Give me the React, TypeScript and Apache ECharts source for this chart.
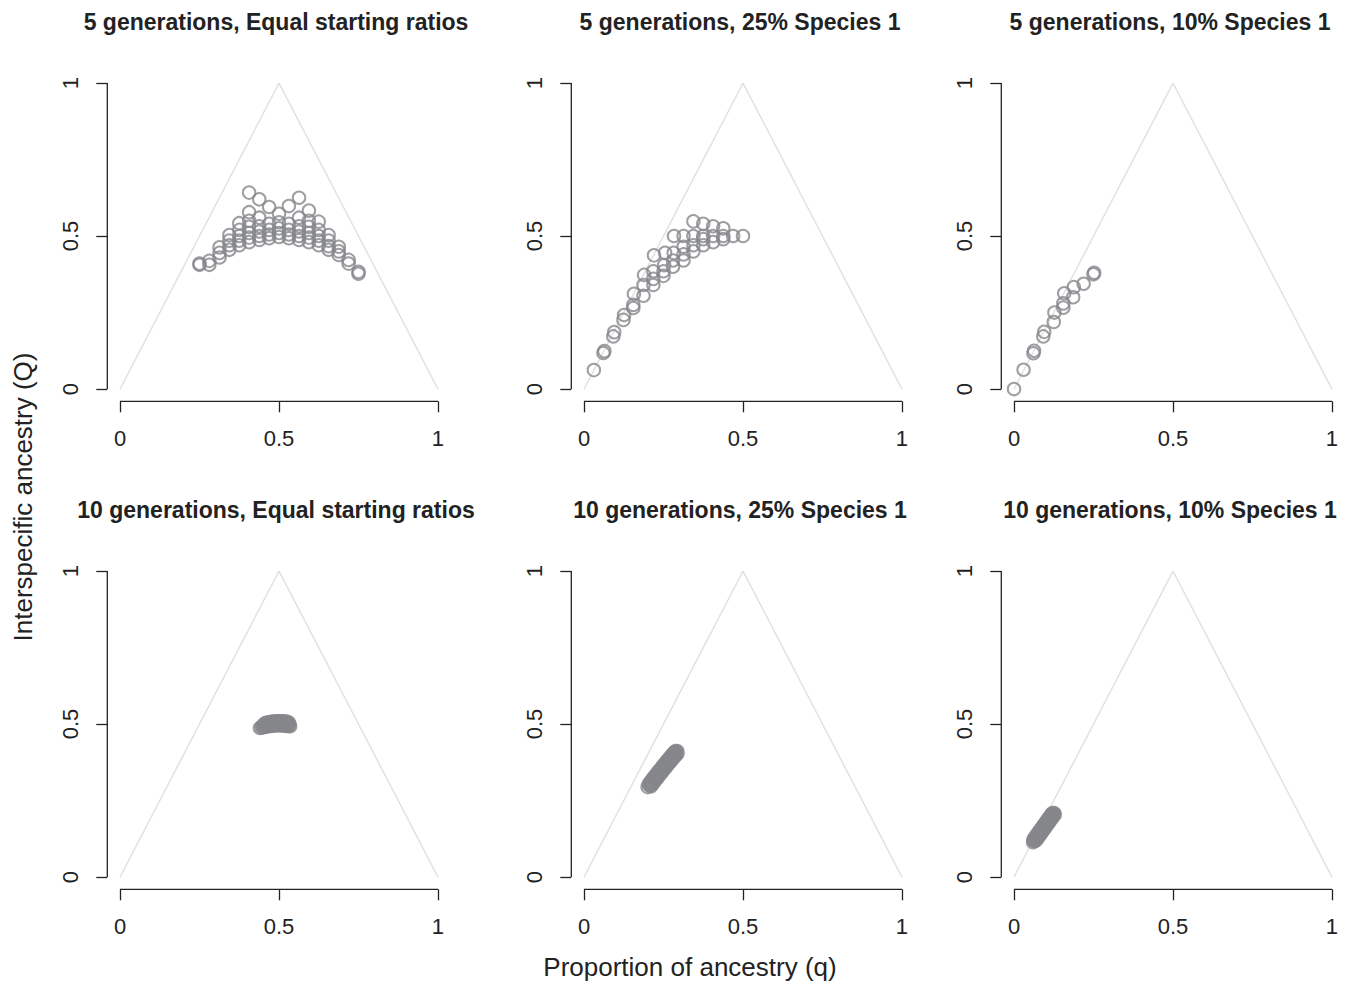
import React, { useEffect, useRef } from "react";
import * as echarts from "echarts";

const FONT = '"Liberation Sans", Arial, Helvetica, sans-serif';

const panelTitles = [
  "5 generations, Equal starting ratios",
  "5 generations, 25% Species 1",
  "5 generations, 10% Species 1",
  "10 generations, Equal starting ratios",
  "10 generations, 25% Species 1",
  "10 generations, 10% Species 1",
];
const xAxisTitle = "Proportion of ancestry (q)";
const yAxisTitle = "Interspecific ancestry (Q)";
const tickValues = [0, 0.5, 1];
const triangle = [[0, 0], [0.5, 1], [1, 0]];

// [q, Q] pairs
const gen5Equal = [
  [0.25, 0.406], [0.25, 0.41],
  [0.281, 0.406], [0.281, 0.419],
  [0.313, 0.43], [0.313, 0.445], [0.313, 0.463],
  [0.344, 0.455], [0.344, 0.47], [0.344, 0.485], [0.344, 0.503],
  [0.375, 0.47], [0.375, 0.485], [0.375, 0.5], [0.375, 0.52], [0.375, 0.542],
  [0.406, 0.48], [0.406, 0.495], [0.406, 0.51], [0.406, 0.53], [0.406, 0.55], [0.406, 0.578], [0.406, 0.642],
  [0.438, 0.487], [0.438, 0.5], [0.438, 0.515], [0.438, 0.532], [0.438, 0.56], [0.438, 0.62],
  [0.469, 0.493], [0.469, 0.505], [0.469, 0.52], [0.469, 0.54], [0.469, 0.595],
  [0.5, 0.497], [0.5, 0.51], [0.5, 0.525], [0.5, 0.545], [0.5, 0.573],
  [0.531, 0.493], [0.531, 0.505], [0.531, 0.52], [0.531, 0.54], [0.531, 0.598],
  [0.563, 0.487], [0.563, 0.5], [0.563, 0.515], [0.563, 0.532], [0.563, 0.56], [0.563, 0.625],
  [0.594, 0.48], [0.594, 0.495], [0.594, 0.51], [0.594, 0.53], [0.594, 0.55], [0.594, 0.583],
  [0.625, 0.47], [0.625, 0.485], [0.625, 0.5], [0.625, 0.52], [0.625, 0.547],
  [0.656, 0.455], [0.656, 0.467], [0.656, 0.485], [0.656, 0.503],
  [0.688, 0.438], [0.688, 0.45], [0.688, 0.465],
  [0.719, 0.41], [0.719, 0.422],
  [0.75, 0.377], [0.75, 0.383],
];

const gen5Sp25 = [
  [0.031, 0.062], [0.061, 0.118], [0.064, 0.124], [0.092, 0.172], [0.095, 0.186],
  [0.124, 0.226], [0.126, 0.242], [0.155, 0.265], [0.155, 0.275], [0.157, 0.311],
  [0.187, 0.305], [0.187, 0.34], [0.189, 0.373], [0.218, 0.34], [0.218, 0.36],
  [0.218, 0.385], [0.22, 0.437], [0.25, 0.37], [0.25, 0.385], [0.252, 0.405],
  [0.255, 0.445], [0.28, 0.4], [0.28, 0.42], [0.282, 0.445], [0.283, 0.5],
  [0.313, 0.42], [0.313, 0.44], [0.313, 0.465], [0.313, 0.5], [0.344, 0.45],
  [0.344, 0.47], [0.344, 0.5], [0.344, 0.548], [0.375, 0.47], [0.375, 0.49],
  [0.375, 0.5], [0.375, 0.54], [0.406, 0.48], [0.406, 0.5], [0.406, 0.532],
  [0.438, 0.49], [0.438, 0.5], [0.438, 0.525], [0.469, 0.5], [0.5, 0.5],
];

const gen5Sp10 = [
  [0, 0], [0.03, 0.063], [0.061, 0.117], [0.063, 0.125], [0.092, 0.172],
  [0.095, 0.187], [0.125, 0.219], [0.127, 0.25], [0.155, 0.266], [0.155, 0.28],
  [0.158, 0.313], [0.186, 0.3], [0.188, 0.333], [0.219, 0.344], [0.25, 0.375],
  [0.252, 0.38],
];

const gen10Equal = [
  [0.44, 0.487], [0.445, 0.489], [0.45, 0.49], [0.455, 0.491], [0.46, 0.492],
  [0.465, 0.493], [0.47, 0.494], [0.475, 0.494], [0.48, 0.495], [0.485, 0.495],
  [0.49, 0.496], [0.495, 0.496], [0.5, 0.496], [0.505, 0.496], [0.51, 0.496],
  [0.515, 0.495], [0.52, 0.495], [0.525, 0.494], [0.53, 0.494], [0.535, 0.493],
  [0.448, 0.494], [0.453, 0.496], [0.458, 0.497], [0.463, 0.498], [0.468, 0.499],
  [0.473, 0.5], [0.478, 0.5], [0.483, 0.501], [0.488, 0.501], [0.493, 0.502],
  [0.498, 0.502], [0.503, 0.502], [0.508, 0.502], [0.513, 0.502], [0.518, 0.501],
  [0.523, 0.5], [0.528, 0.5], [0.533, 0.499],
  [0.455, 0.502], [0.46, 0.504], [0.465, 0.505], [0.47, 0.506], [0.475, 0.507],
  [0.48, 0.507], [0.485, 0.508], [0.49, 0.508], [0.495, 0.509], [0.5, 0.509],
  [0.505, 0.509], [0.51, 0.509], [0.515, 0.508], [0.52, 0.508], [0.525, 0.507],
  [0.53, 0.506],
];

const gen10Sp25 = [
  [0.2, 0.294], [0.205, 0.3], [0.209, 0.306], [0.213, 0.311], [0.217, 0.317],
  [0.221, 0.322], [0.225, 0.327], [0.229, 0.333], [0.233, 0.338], [0.237, 0.343],
  [0.241, 0.348], [0.245, 0.354], [0.249, 0.359], [0.253, 0.364], [0.257, 0.369],
  [0.261, 0.374], [0.265, 0.379], [0.269, 0.384], [0.273, 0.389], [0.277, 0.394],
  [0.281, 0.399], [0.285, 0.404], [0.289, 0.408], [0.293, 0.412],
  [0.21, 0.296], [0.214, 0.302], [0.218, 0.307], [0.222, 0.313], [0.226, 0.318],
  [0.23, 0.323], [0.234, 0.329], [0.238, 0.334], [0.242, 0.339], [0.246, 0.344],
  [0.25, 0.35], [0.254, 0.355], [0.258, 0.36], [0.262, 0.365], [0.266, 0.37],
  [0.27, 0.375], [0.274, 0.38], [0.278, 0.385], [0.282, 0.39], [0.286, 0.395],
  [0.29, 0.4], [0.294, 0.404],
  [0.204, 0.304], [0.208, 0.31], [0.212, 0.315], [0.216, 0.321], [0.22, 0.326],
  [0.224, 0.331], [0.228, 0.337], [0.232, 0.342], [0.236, 0.347], [0.24, 0.352],
  [0.244, 0.358], [0.248, 0.363], [0.252, 0.368], [0.256, 0.373], [0.26, 0.378],
  [0.264, 0.383], [0.268, 0.388], [0.272, 0.393], [0.276, 0.398], [0.28, 0.403],
  [0.284, 0.408], [0.288, 0.412],
];

const gen10Sp10 = [
  [0.06, 0.114], [0.063, 0.118], [0.066, 0.123], [0.069, 0.127], [0.072, 0.131],
  [0.075, 0.136], [0.078, 0.14], [0.081, 0.144], [0.084, 0.149], [0.087, 0.153],
  [0.09, 0.157], [0.093, 0.162], [0.096, 0.166], [0.099, 0.17], [0.102, 0.175],
  [0.105, 0.179], [0.108, 0.183], [0.111, 0.188], [0.114, 0.192], [0.117, 0.196],
  [0.12, 0.2], [0.123, 0.205], [0.126, 0.209],
  [0.068, 0.119], [0.071, 0.123], [0.074, 0.127], [0.077, 0.132], [0.08, 0.136],
  [0.083, 0.14], [0.086, 0.145], [0.089, 0.149], [0.092, 0.153], [0.095, 0.158],
  [0.098, 0.162], [0.101, 0.166], [0.104, 0.171], [0.107, 0.175], [0.11, 0.179],
  [0.113, 0.184], [0.116, 0.188], [0.119, 0.192], [0.122, 0.196], [0.125, 0.201],
  [0.128, 0.204],
  [0.061, 0.122], [0.064, 0.127], [0.067, 0.131], [0.07, 0.135], [0.073, 0.14],
  [0.076, 0.144], [0.079, 0.148], [0.082, 0.153], [0.085, 0.157], [0.088, 0.161],
  [0.091, 0.166], [0.094, 0.17], [0.097, 0.174], [0.1, 0.179], [0.103, 0.183],
  [0.106, 0.187], [0.109, 0.192], [0.112, 0.196], [0.115, 0.2], [0.118, 0.205],
  [0.121, 0.209],
];

const panelData = [gen5Equal, gen5Sp25, gen5Sp10, gen10Equal, gen10Sp25, gen10Sp10];

const GRID_LEFTS = [107.3, 571.3, 1001.3];
const GRID_TOPS = [70.8, 558.8];
const GRID_W = 343.4;
const GRID_H = 330.5;
const AXIS_MIN = -0.04;
const AXIS_MAX = 1.04;
const INK = "#222222";
const POINT = "#86878b";

function buildOption() {
  const grid: any[] = [];
  const xAxis: any[] = [];
  const yAxis: any[] = [];
  const series: any[] = [];
  const graphic: any[] = [];

  for (let i = 0; i < 6; i++) {
    const col = i % 3;
    const row = Math.floor(i / 3);
    const left = GRID_LEFTS[col];
    const top = GRID_TOPS[row];
    grid.push({ left, top, width: GRID_W, height: GRID_H, containLabel: false });
    xAxis.push({
      gridIndex: i,
      type: "value",
      min: AXIS_MIN,
      max: AXIS_MAX,
      axisLine: { show: false, onZero: false },
      splitLine: { show: false },
      axisTick: {
        show: true,
        customValues: tickValues,
        length: 11,
        lineStyle: { color: INK, width: 1.3 },
      },
      axisLabel: {
        customValues: tickValues,
        fontSize: 22,
        color: INK,
        fontFamily: FONT,
        margin: 26,
      },
    });
    yAxis.push({
      gridIndex: i,
      type: "value",
      min: AXIS_MIN,
      max: AXIS_MAX,
      axisLine: { show: false, onZero: false },
      splitLine: { show: false },
      axisTick: {
        show: true,
        customValues: tickValues,
        length: 11,
        lineStyle: { color: INK, width: 1.3 },
      },
      axisLabel: {
        customValues: tickValues,
        fontSize: 22,
        color: INK,
        fontFamily: FONT,
        rotate: 90,
        margin: 26,
      },
    });
    series.push({
      type: "line",
      xAxisIndex: i,
      yAxisIndex: i,
      data: triangle,
      symbol: "none",
      silent: true,
      lineStyle: { color: "#e2e2e2", width: 1.5 },
      z: 1,
    });
    series.push({
      type: "line",
      xAxisIndex: i,
      yAxisIndex: i,
      data: [[AXIS_MIN, tickValues[0]], [AXIS_MIN, tickValues[2]]],
      symbol: "none",
      silent: true,
      clip: false,
      lineStyle: { color: INK, width: 1.3 },
      z: 3,
    });
    series.push({
      type: "line",
      xAxisIndex: i,
      yAxisIndex: i,
      data: [[tickValues[0], AXIS_MIN], [tickValues[2], AXIS_MIN]],
      symbol: "none",
      silent: true,
      clip: false,
      lineStyle: { color: INK, width: 1.3 },
      z: 3,
    });
    series.push({
      type: "scatter",
      xAxisIndex: i,
      yAxisIndex: i,
      data: panelData[i],
      symbol: "circle",
      symbolSize: 12.5,
      clip: false,
      itemStyle: { color: "rgba(0,0,0,0)", borderColor: POINT, borderWidth: 2 },
      z: 2,
    });
    graphic.push({
      type: "text",
      x: left + GRID_W / 2 - 3,
      y: 21.5 + row * 488,
      style: {
        text: panelTitles[i],
        align: "center",
        verticalAlign: "middle",
        fontSize: 23,
        fontWeight: "bold",
        fontFamily: FONT,
        fill: INK,
      },
    });
  }

  graphic.push({
    type: "text",
    x: 690,
    y: 967,
    style: {
      text: xAxisTitle,
      align: "center",
      verticalAlign: "middle",
      fontSize: 26,
      fontFamily: FONT,
      fill: INK,
    },
  });
  graphic.push({
    type: "text",
    x: 23,
    y: 497,
    rotation: Math.PI / 2,
    style: {
      text: yAxisTitle,
      align: "center",
      verticalAlign: "middle",
      fontSize: 26,
      fontFamily: FONT,
      fill: INK,
    },
  });

  return {
    animation: false,
    backgroundColor: "#ffffff",
    grid,
    xAxis,
    yAxis,
    series,
    graphic,
  };
}

export default function App() {
  const ref = useRef<HTMLDivElement>(null);
  useEffect(() => {
    if (!ref.current) return;
    const chart = echarts.init(ref.current, undefined, { renderer: "svg" });
    chart.setOption(buildOption() as any);
    return () => chart.dispose();
  }, []);
  return (
    <div
      ref={ref}
      style={{ position: "fixed", left: 0, top: 0, width: 1348, height: 987, background: "#fff" }}
    />
  );
}
